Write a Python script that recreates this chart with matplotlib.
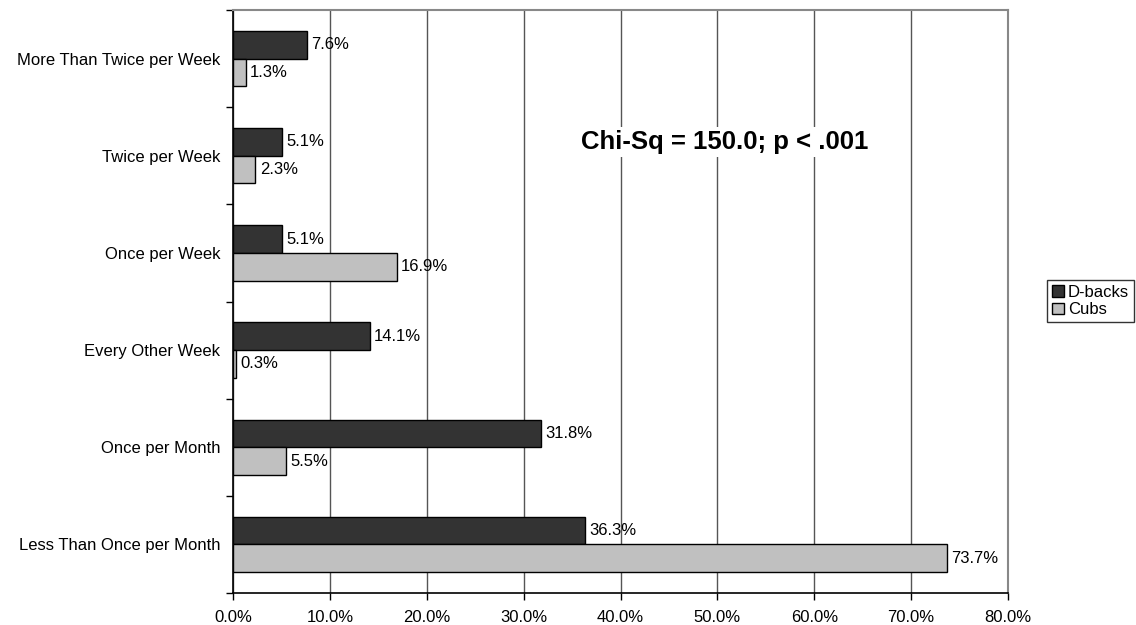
import matplotlib.pyplot as plt
import numpy as np
from matplotlib.ticker import FuncFormatter, FixedLocator

plt.rcParams['font.family'] = ['Liberation Sans', 'DejaVu Sans']

categories = ['More Than Twice per Week', 'Twice per Week', 'Once per Week',
              'Every Other Week', 'Once per Month', 'Less Than Once per Month']
dbacks = [7.6, 5.1, 5.1, 14.1, 31.8, 36.3]
cubs = [1.3, 2.3, 16.9, 0.3, 5.5, 73.7]

fig = plt.figure(figsize=(11.36, 6.25), dpi=100)
ax = fig.add_axes([233/1136, 32/625, (1008-233)/1136, (593-10)/625])

n = len(categories)
ypos = np.arange(n)[::-1].astype(float)  # top category at top
h = 0.285
fs = 12

b1 = ax.barh(ypos + h/2, dbacks, height=h, color='#333333', edgecolor='black',
             linewidth=1, label='D-backs', zorder=3)
b2 = ax.barh(ypos - h/2, cubs, height=h, color='#c0c0c0', edgecolor='black',
             linewidth=1, label='Cubs', zorder=3)

for bars, vals in [(b1, dbacks), (b2, cubs)]:
    for rect, v in zip(bars, vals):
        ax.text(v + 0.45, rect.get_y() + rect.get_height()/2, f'{v:.1f}%',
                va='center', ha='left', fontsize=fs, zorder=4)

ax.set_xlim(0, 80)
ax.set_ylim(-0.5, n - 0.5)
ax.set_xticks(np.arange(0, 81, 10))
ax.xaxis.set_major_formatter(FuncFormatter(lambda x, p: f'{x:.1f}%'))
ax.set_yticks(ypos)
ax.set_yticklabels(categories)
ax.yaxis.set_minor_locator(FixedLocator(np.arange(-0.5, n, 1.0)))
ax.tick_params(axis='y', which='major', length=0, pad=9, labelsize=fs)
ax.tick_params(axis='y', which='minor', length=5, width=1, direction='out')
ax.tick_params(axis='x', length=5, width=1, direction='out', labelsize=fs, pad=7)
ax.grid(axis='x', color='#555555', linewidth=1, zorder=0)

for s in ['top', 'right']:
    ax.spines[s].set_color('#888888')
    ax.spines[s].set_linewidth(1.5)
for s in ['left', 'bottom']:
    ax.spines[s].set_color('black')
    ax.spines[s].set_linewidth(1.2)

ax.text(0.634, 0.774, 'Chi-Sq = 150.0; p < .001', transform=ax.transAxes,
        ha='center', va='center', fontsize=18.5, fontweight='bold', zorder=5,
        bbox=dict(facecolor='white', edgecolor='none', pad=2))

leg = fig.legend(loc='upper left', bbox_to_anchor=(1047/1136, 1 - 280/625),
                 fontsize=fs, frameon=True, fancybox=False, edgecolor='black',
                 handlelength=0.7, handleheight=0.7, handletextpad=0.25,
                 borderpad=0.3, labelspacing=0.15, borderaxespad=0)
leg.get_frame().set_linewidth(1)

fig.savefig('out.png', dpi=100)
